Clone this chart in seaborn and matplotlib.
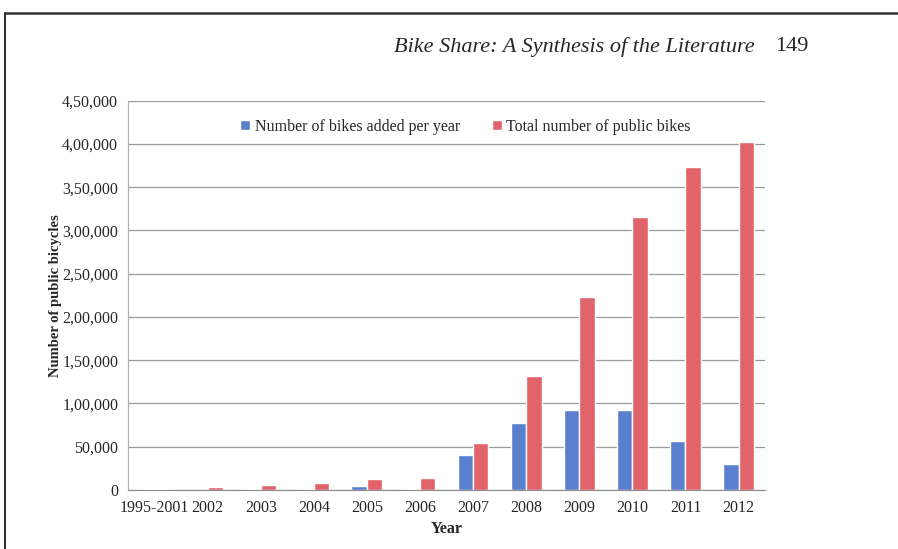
import pandas as pd
import numpy as np
import seaborn as sns
import matplotlib.pyplot as plt
from matplotlib.lines import Line2D
from matplotlib.ticker import FixedLocator, FuncFormatter

years = ["1995-2001", "2002", "2003", "2004", "2005", "2006",
         "2007", "2008", "2009", "2010", "2011", "2012"]
added = [1700, 500, 1500, 1000, 4500, 1500,
         40500, 77700, 92000, 93000, 57000, 29500]
total = [1700, 3400, 6200, 7700, 12300, 13800,
         54000, 132000, 223600, 316000, 373700, 402000]
series = ["Number of bikes added per year", "Total number of public bikes"]
colors = ["#5B7FCF", "#E0646A"]

df = pd.DataFrame({
    "Year": years * 2,
    "Bikes": added + total,
    "Series": [series[0]] * len(years) + [series[1]] * len(years),
})

sns.set_style("white")
plt.rcParams['font.family'] = ['Liberation Serif', 'DejaVu Serif']

fig = plt.figure(figsize=(8.98, 5.49), dpi=100)
ax = fig.add_axes([0.1425, 0.1075, 0.7095, 0.709])

sns.barplot(data=df, x="Year", y="Bikes", hue="Series", order=years,
            hue_order=series, palette=colors, width=0.58, ax=ax,
            saturation=1, errorbar=None)

ax.set_ylim(0, 450000)
ax.set_xlim(-0.5, len(years) - 0.5)
ax.yaxis.set_major_locator(FixedLocator(np.arange(0, 450001, 50000)))


def indian(v, pos):
    v = int(round(v))
    if v == 0:
        return "0"
    s = str(v)
    last3 = s[-3:]
    rest = s[:-3]
    parts = []
    while len(rest) > 2:
        parts.insert(0, rest[-2:])
        rest = rest[:-2]
    if rest:
        parts.insert(0, rest)
    return ",".join(parts + [last3])


ax.yaxis.set_major_formatter(FuncFormatter(indian))
ax.grid(axis="y", color="#9a9a9a", linewidth=0.9)
ax.set_axisbelow(True)
for side in ["top", "right"]:
    ax.spines[side].set_visible(False)
ax.spines["left"].set_color("#b0b0b0")
ax.spines["bottom"].set_color("#8a8a8a")

ax.tick_params(axis="y", length=4, color="#9a9a9a", labelsize=11.5, pad=3)
ax.tick_params(axis="x", which="major", length=0, labelsize=11.5, pad=7)
ax.set_xticks(np.arange(-0.5, len(years), 1), minor=True)
ax.tick_params(axis="x", which="minor", length=4, color="#8a8a8a",
               direction="out")

ax.set_xlabel("Year", fontsize=11.5, fontweight="bold", labelpad=4)
ax.set_ylabel("Number of public bicycles", fontsize=10.5,
              fontweight="bold", labelpad=0)

handles, labels = ax.get_legend_handles_labels()
ax.legend(handles, labels, loc="upper center", bbox_to_anchor=(0.53, 0.99),
          ncol=2, frameon=False, fontsize=11.5, handlelength=0.6,
          handleheight=0.6, handletextpad=0.3, columnspacing=2.0)

fig.text(0.84, 0.915, "Bike Share: A Synthesis of the Literature",
         ha="right", va="center", fontsize=16, style="italic")
fig.text(0.9, 0.915, "149", ha="right", va="center", fontsize=16)

fig.add_artist(Line2D([0.006, 1.0], [0.976, 0.976], color="#333333",
                      linewidth=1.8, transform=fig.transFigure))
fig.add_artist(Line2D([0.006, 0.006], [0.0, 0.976], color="#333333",
                      linewidth=1.5, transform=fig.transFigure))

fig.savefig("out.png", dpi=100)
